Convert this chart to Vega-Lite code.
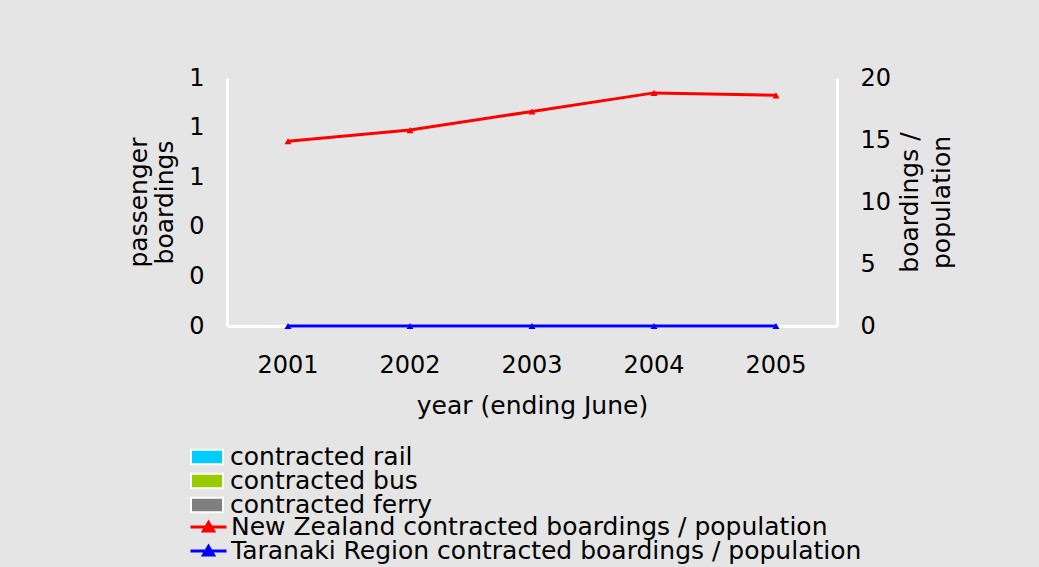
{
  "$schema": "https://vega.github.io/schema/vega-lite/v6.json",
  "width": 610,
  "height": 248,
  "autosize": {"type": "none"},
  "padding": {"left": 227, "top": 78, "right": 202, "bottom": 241},
  "background": "#e5e5e5",
  "config": {
    "font": "DejaVu Sans",
    "view": {"stroke": null},
    "axis": {
      "labelFont": "DejaVu Sans",
      "titleFont": "DejaVu Sans",
      "labelFontSize": 24,
      "titleFontSize": 25,
      "labelColor": "#000000",
      "titleColor": "#000000",
      "titleFontWeight": "normal",
      "grid": false,
      "ticks": false,
      "domainColor": "#ffffff",
      "domainWidth": 3
    },
    "legend": {
      "labelFont": "DejaVu Sans",
      "labelFontSize": 25,
      "labelColor": "#000000",
      "labelLimit": 0,
      "orient": "none",
      "title": null,
      "rowPadding": -1,
      "clipHeight": 20
    }
  },
  "datasets": {
    "bars": [
      {"year": "2001", "mode": "contracted rail", "boardings": 0},
      {"year": "2001", "mode": "contracted bus", "boardings": 0},
      {"year": "2001", "mode": "contracted ferry", "boardings": 0},
      {"year": "2002", "mode": "contracted rail", "boardings": 0},
      {"year": "2002", "mode": "contracted bus", "boardings": 0},
      {"year": "2002", "mode": "contracted ferry", "boardings": 0},
      {"year": "2003", "mode": "contracted rail", "boardings": 0},
      {"year": "2003", "mode": "contracted bus", "boardings": 0},
      {"year": "2003", "mode": "contracted ferry", "boardings": 0},
      {"year": "2004", "mode": "contracted rail", "boardings": 0},
      {"year": "2004", "mode": "contracted bus", "boardings": 0},
      {"year": "2004", "mode": "contracted ferry", "boardings": 0},
      {"year": "2005", "mode": "contracted rail", "boardings": 0},
      {"year": "2005", "mode": "contracted bus", "boardings": 0},
      {"year": "2005", "mode": "contracted ferry", "boardings": 0}
    ],
    "lines": [
      {"year": "2001", "series": "New Zealand contracted boardings / population", "value": 14.9},
      {"year": "2002", "series": "New Zealand contracted boardings / population", "value": 15.8},
      {"year": "2003", "series": "New Zealand contracted boardings / population", "value": 17.3},
      {"year": "2004", "series": "New Zealand contracted boardings / population", "value": 18.8},
      {"year": "2005", "series": "New Zealand contracted boardings / population", "value": 18.6},
      {"year": "2001", "series": "Taranaki Region contracted boardings / population", "value": 0},
      {"year": "2002", "series": "Taranaki Region contracted boardings / population", "value": 0},
      {"year": "2003", "series": "Taranaki Region contracted boardings / population", "value": 0},
      {"year": "2004", "series": "Taranaki Region contracted boardings / population", "value": 0},
      {"year": "2005", "series": "Taranaki Region contracted boardings / population", "value": 0}
    ]
  },
  "encoding": {
    "x": {
      "field": "year",
      "type": "ordinal",
      "axis": {
        "title": "year (ending June)",
        "labelAngle": 0,
        "labelPadding": 27,
        "titlePadding": 16
      }
    }
  },
  "layer": [
    {
      "data": {"name": "bars"},
      "mark": {"type": "bar"},
      "encoding": {
        "y": {
          "field": "boardings",
          "type": "quantitative",
          "stack": true,
          "scale": {"domain": [0, 1]},
          "axis": {
            "orient": "left",
            "values": [0, 0.2, 0.4, 0.6, 0.8, 1],
            "format": ".0f",
            "title": ["passenger", "boardings"],
            "titleLineHeight": 26,
            "labelPadding": 23,
            "titlePadding": 11
          }
        },
        "fill": {
          "field": "mode",
          "type": "nominal",
          "scale": {
            "domain": ["contracted rail", "contracted bus", "contracted ferry"],
            "range": ["#00ccff", "#99cc00", "#808080"]
          },
          "legend": {
            "legendX": -37,
            "legendY": 369,
            "labelOffset": 6,
            "symbolType": "M-1,-0.45H1V0.45H-1Z",
            "symbolSize": 1024,
            "symbolStrokeColor": "#ffffff",
            "symbolStrokeWidth": 2
          }
        }
      }
    },
    {
      "data": {"name": "lines"},
      "encoding": {
        "y": {
          "field": "value",
          "type": "quantitative",
          "scale": {"domain": [0, 20]},
          "axis": {
            "orient": "right",
            "values": [0, 5, 10, 15, 20],
            "title": ["boardings /", "population"],
            "titleAngle": -90,
            "titleLineHeight": 32,
            "labelPadding": 23,
            "titlePadding": 0
          }
        },
        "color": {
          "field": "series",
          "type": "nominal",
          "scale": {
            "domain": ["New Zealand contracted boardings / population", "Taranaki Region contracted boardings / population"],
            "range": ["#ff0000", "#0000ff"]
          },
          "legend": {
            "legendX": -38,
            "legendY": 439,
            "labelOffset": 3,
            "symbolType": "M-1,0H1M-0.28,0.22L0,-0.25L0.28,0.22Z",
            "symbolSize": 1296,
            "symbolStrokeWidth": 3,
            "encode": {"symbols": {"update": {"fill": {"scale": "color", "field": "value"}}}}
          }
        }
      },
      "layer": [
        {"mark": {"type": "line", "strokeWidth": 3}},
        {"mark": {"type": "point", "shape": "triangle-up", "filled": true, "size": 50, "opacity": 1}}
      ]
    }
  ],
  "resolve": {"scale": {"y": "independent"}}
}
